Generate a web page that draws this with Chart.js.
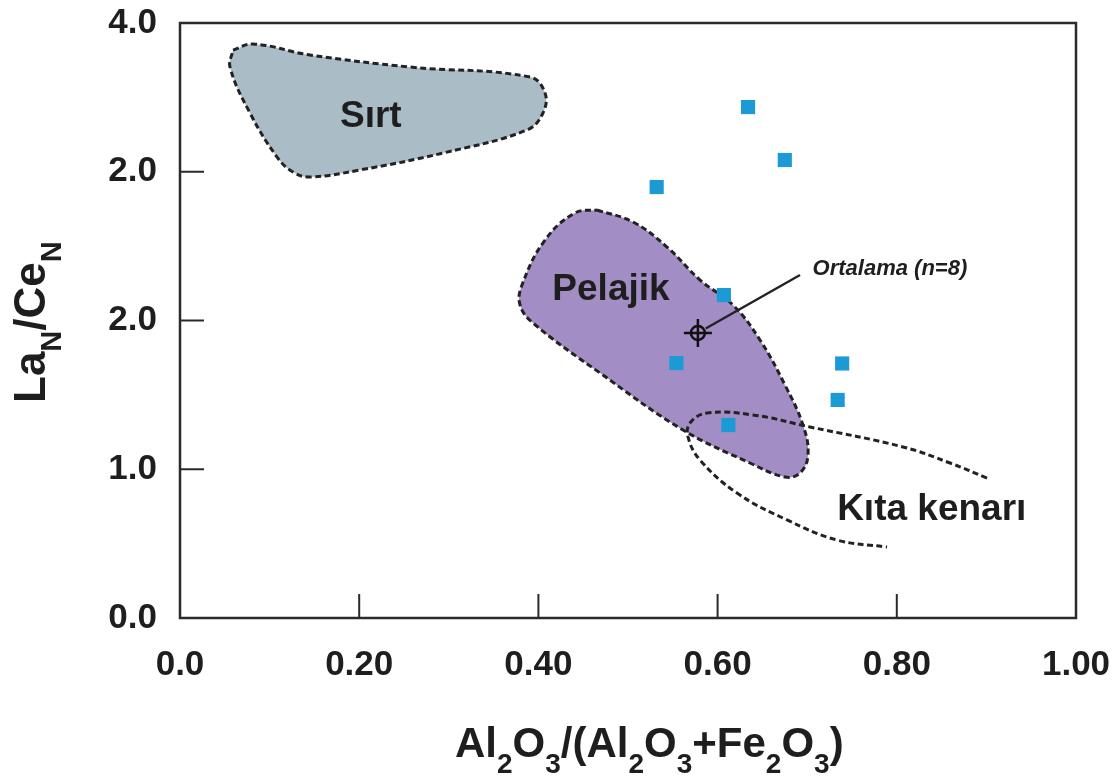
<!DOCTYPE html>
<html><head><meta charset="utf-8">
<script src="https://cdn.jsdelivr.net/npm/chart.js@4.4.1/dist/chart.umd.min.js"></script>
<style>html,body{margin:0;padding:0;background:#fff;}canvas{display:block;}</style>
</head><body>
<canvas id="c" width="1116" height="778"></canvas>
<script>
// ---- tick labels (as printed on the original) ----
const xTickLabels = ["0.0", "0.20", "0.40", "0.60", "0.80", "1.00"];
const yTickLabels = ["0.0", "1.0", "2.0", "2.0", "4.0"];

// ---- samples (blue squares) ----
const sampleX = [0.634, 0.675, 0.532, 0.607, 0.554, 0.612, 0.734, 0.739];
const sampleY = [3.435, 3.079, 2.897, 2.171, 1.714, 1.297, 1.466, 1.711];

// ---- average ----
const averageX = [0.578];
const averageY = [1.916];
const averageLabel = "Ortalama (n=8)";
const averageLabelAt = [0.706, 2.346];
const leaderEnd = [0.692, 2.306];

// ---- fields ----
const sirtX = [0.0592, 0.0815, 0.1451, 0.2567, 0.3906, 0.4074, 0.4051, 0.3873, 0.2935, 0.2009, 0.1451, 0.1261, 0.1083, 0.0781, 0.0558, 0.0592];
const sirtY = [3.818, 3.859, 3.785, 3.704, 3.637, 3.529, 3.395, 3.281, 3.126, 3.012, 2.965, 2.998, 3.099, 3.395, 3.704, 3.818];

const pelajikX = [0.4654, 0.5056, 0.5435, 0.5804, 0.6172, 0.6473, 0.6752, 0.6953, 0.7009, 0.6920, 0.6752, 0.6362, 0.5614, 0.4688, 0.3940, 0.3795, 0.3817, 0.4074, 0.4408, 0.4654];
const pelajikY = [2.743, 2.662, 2.494, 2.272, 2.104, 1.869, 1.566, 1.297, 1.096, 0.975, 0.948, 1.042, 1.264, 1.647, 1.983, 2.104, 2.239, 2.541, 2.723, 2.743];

const kitaX = [0.9007, 0.8594, 0.8069, 0.7031, 0.6395, 0.5882, 0.5692, 0.5670, 0.5804, 0.6217, 0.6775, 0.7333, 0.7891];
const kitaY = [0.941, 1.042, 1.150, 1.284, 1.365, 1.378, 1.311, 1.217, 1.062, 0.840, 0.659, 0.524, 0.477];

const fieldNames = ["Sırt", "Pelajik", "Kıta kenarı"];
const fieldLabelX = [0.213, 0.481, 0.839];
const fieldLabelY = [3.368, 2.205, 0.726];

const FONT = "'Liberation Sans', Arial, Helvetica, sans-serif";
const toPts = (xs, ys) => xs.map((x, i) => ({x: x, y: ys[i]}));

function drawRich(ctx, parts, x, y, mainSize, subSize, subDrop) {
  let cx = x;
  for (const p of parts) {
    ctx.font = "bold " + (p.sub ? subSize : mainSize) + "px " + FONT;
    ctx.fillText(p.t, cx, y + (p.sub ? subDrop : 0));
    cx += ctx.measureText(p.t).width;
  }
}

const overlay = {
  id: 'overlay',
  afterDatasetsDraw(chart) {
    const ctx = chart.ctx, xs = chart.scales.x, ys = chart.scales.y;
    ctx.save();
    ctx.fillStyle = '#1e1e1e';
    ctx.textAlign = 'center';
    ctx.textBaseline = 'middle';
    fieldNames.forEach((n, i) => {
      ctx.font = "bold 37px " + FONT;
      ctx.fillText(n, xs.getPixelForValue(fieldLabelX[i]), ys.getPixelForValue(fieldLabelY[i]));
    });
    ctx.strokeStyle = '#222';
    ctx.lineWidth = 2.4;
    ctx.beginPath();
    const ax = xs.getPixelForValue(averageX[0]), ay = ys.getPixelForValue(averageY[0]);
    const ex = xs.getPixelForValue(leaderEnd[0]), ey = ys.getPixelForValue(leaderEnd[1]);
    const dx = ex - ax, dy = ey - ay, L = Math.hypot(dx, dy);
    ctx.moveTo(ax + dx / L * 9, ay + dy / L * 9);
    ctx.lineTo(ex, ey);
    ctx.stroke();
    ctx.textAlign = 'left';
    ctx.font = "italic bold 22px " + FONT;
    ctx.fillText(averageLabel, xs.getPixelForValue(averageLabelAt[0]), ys.getPixelForValue(averageLabelAt[1]));
    ctx.restore();
  },
  afterDraw(chart) {
    const ctx = chart.ctx, a = chart.chartArea, xs = chart.scales.x, ys = chart.scales.y;
    ctx.save();
    ctx.strokeStyle = '#2a2a2a';
    ctx.lineWidth = 2.5;
    ctx.strokeRect(a.left, a.top, a.right - a.left, a.bottom - a.top);
    ctx.lineWidth = 2;
    ctx.beginPath();
    xs.ticks.forEach(t => {
      if (t.value <= xs.min || t.value >= xs.max) return;
      const p = xs.getPixelForValue(t.value);
      ctx.moveTo(p, a.bottom); ctx.lineTo(p, a.bottom - 24);
    });
    ys.ticks.forEach(t => {
      if (t.value <= ys.min || t.value >= ys.max) return;
      const p = ys.getPixelForValue(t.value);
      ctx.moveTo(a.left, p); ctx.lineTo(a.left + 24, p);
    });
    ctx.stroke();
    ctx.fillStyle = '#1e1e1e';
    ctx.textAlign = 'left';
    ctx.textBaseline = 'alphabetic';
    drawRich(ctx, [
      {t: 'Al'}, {t: '2', sub: true}, {t: 'O'}, {t: '3', sub: true}, {t: '/(Al'}, {t: '2', sub: true},
      {t: 'O'}, {t: '3', sub: true}, {t: '+Fe'}, {t: '2', sub: true}, {t: 'O'}, {t: '3', sub: true}, {t: ')'}
    ], 455, 757, 42, 28, 16);
    ctx.save();
    ctx.translate(45, 403);
    ctx.rotate(-Math.PI / 2);
    drawRich(ctx, [{t: 'La'}, {t: 'N', sub: true}, {t: '/Ce'}, {t: 'N', sub: true}], 0, 0, 44, 29, 16);
    ctx.restore();
    ctx.restore();
  }
};

new Chart(document.getElementById('c'), {
  type: 'scatter',
  data: {
    datasets: [
      { label: 'Ortalama', data: toPts(averageX, averageY), pointStyle: 'circle', pointRadius: 7,
        backgroundColor: 'rgba(0,0,0,0)', borderColor: '#111', pointBorderWidth: 2.5, order: 0 },
      { label: 'Ortalama+', data: toPts(averageX, averageY), pointStyle: 'cross', pointRadius: 14,
        borderColor: '#111', pointBorderWidth: 2.5, order: 1 },
      { label: 'Numuneler', data: toPts(sampleX, sampleY), pointStyle: 'rect', pointRadius: 10,
        backgroundColor: '#1b9ad6', borderColor: '#1b9ad6', pointBorderWidth: 0, order: 2 },
      { label: 'Kıta kenarı', data: toPts(kitaX, kitaY), showLine: true, fill: false, tension: 0.4,
        borderColor: '#222', borderWidth: 3, borderDash: [6, 3.5], pointRadius: 0, order: 3 },
      { label: 'Pelajik', data: toPts(pelajikX, pelajikY), showLine: true, fill: 'shape', tension: 0.4,
        backgroundColor: '#a28ec4', borderColor: '#222', borderWidth: 3, borderDash: [6, 3.5], pointRadius: 0, order: 4 },
      { label: 'Sırt', data: toPts(sirtX, sirtY), showLine: true, fill: 'shape', tension: 0.4,
        backgroundColor: '#aabdc7', borderColor: '#222', borderWidth: 3, borderDash: [6, 3.5], pointRadius: 0, order: 5 }
    ]
  },
  options: {
    responsive: false,
    animation: false,
    devicePixelRatio: 1,
    layout: { padding: { left: 0, top: 23, right: 40, bottom: 0 } },
    plugins: { legend: { display: false }, tooltip: { enabled: false } },
    scales: {
      x: {
        type: 'linear', min: 0, max: 1,
        grid: { display: false, drawTicks: false },
        border: { display: false },
        ticks: { stepSize: 0.2, padding: 26, color: '#1e1e1e', font: { family: FONT, size: 35, weight: 'bold' },
          callback: (v, i) => xTickLabels[i], maxRotation: 0, autoSkip: false },
        afterFit: (s) => { s.height = 160; s.paddingLeft = 0; s.paddingRight = 0; }
      },
      y: {
        type: 'linear', min: 0, max: 4,
        grid: { display: false, drawTicks: false },
        border: { display: false },
        ticks: { stepSize: 1, padding: 23, color: '#1e1e1e', font: { family: FONT, size: 35, weight: 'bold' },
          callback: (v, i) => yTickLabels[i], autoSkip: false },
        afterFit: (s) => { s.width = 180; s.paddingTop = 0; s.paddingBottom = 0; }
      }
    }
  },
  plugins: [overlay]
});
</script>
</body></html>
